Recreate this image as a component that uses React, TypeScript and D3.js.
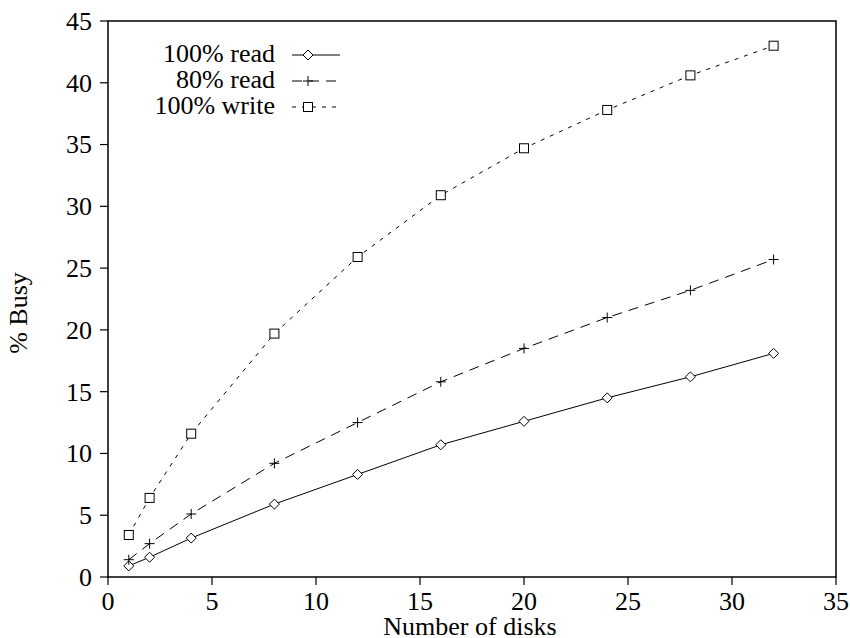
import React from "react";
import * as d3 from "d3";

const disks = [1, 2, 4, 8, 12, 16, 20, 24, 28, 32];
const read100 = [0.9, 1.6, 3.15, 5.9, 8.3, 10.7, 12.6, 14.5, 16.2, 18.1];
const read80 = [1.4, 2.7, 5.1, 9.2, 12.5, 15.8, 18.5, 21.0, 23.2, 25.7];
const write100 = [3.4, 6.4, 11.6, 19.7, 25.9, 30.9, 34.7, 37.8, 40.6, 43.0];
const seriesNames = ["100% read", "80% read", "100% write"];
const xTicks = [0, 5, 10, 15, 20, 25, 30, 35];
const yTicks = [0, 5, 10, 15, 20, 25, 30, 35, 40, 45];

const W = 850, H = 638;
const L = 108, R = 836, T = 21, B = 577;
const FONT = "'Liberation Serif', 'Times New Roman', serif";
const FS = 26;

export default function App() {
  const x = d3.scaleLinear().domain([0, 35]).range([L, R]);
  const y = d3.scaleLinear().domain([0, 45]).range([B, T]);
  const line = d3.line<[number, number]>().x(d => x(d[0])).y(d => y(d[1]));
  const series = [
    { name: seriesNames[0], vals: read100, dash: "none", marker: "diamond" },
    { name: seriesNames[1], vals: read80, dash: "10,7", marker: "plus" },
    { name: seriesNames[2], vals: write100, dash: "4,6", marker: "square" },
  ];
  const marker = (type: string, cx: number, cy: number, key: any) => {
    if (type === "diamond") {
      const s = 5;
      return <path key={key} d={`M${cx},${cy - s}L${cx + s},${cy}L${cx},${cy + s}L${cx - s},${cy}Z`} fill="white" stroke="black" strokeWidth={1} />;
    }
    if (type === "plus") {
      const s = 5;
      return <path key={key} d={`M${cx - s},${cy}H${cx + s}M${cx},${cy - s}V${cy + s}`} stroke="black" strokeWidth={1} fill="none" />;
    }
    const s = 4.5;
    return <rect key={key} x={cx - s} y={cy - s} width={2 * s} height={2 * s} fill="white" stroke="black" strokeWidth={1} />;
  };
  const legendY = [55, 81, 107];
  return (
    <svg width={W} height={H} style={{ position: "absolute", left: 0, top: 0 }}>
      <rect width={W} height={H} fill="white" />
      {series.map((s, i) => (
        <g key={i}>
          <path d={line(disks.map((d, j) => [d, s.vals[j]] as [number, number])) || ""} fill="none" stroke="black" strokeWidth={1} strokeDasharray={s.dash} />
          {disks.map((d, j) => marker(s.marker, x(d), y(s.vals[j]), j))}
        </g>
      ))}
      <rect x={L} y={T} width={R - L} height={B - T} fill="none" stroke="black" strokeWidth={1.5} />
      {xTicks.map(t => (
        <g key={t}>
          <line x1={x(t)} x2={x(t)} y1={B} y2={B + 8} stroke="black" strokeWidth={1.2} />
          <text x={x(t)} y={B + 33} textAnchor="middle" fontFamily={FONT} fontSize={FS}>{t}</text>
        </g>
      ))}
      {yTicks.map(t => (
        <g key={t}>
          <line x1={L - 8} x2={L} y1={y(t)} y2={y(t)} stroke="black" strokeWidth={1.2} />
          <text x={L - 16} y={y(t)} dy="0.34em" textAnchor="end" fontFamily={FONT} fontSize={FS}>{t}</text>
        </g>
      ))}
      <text x={470} y={635} textAnchor="middle" fontFamily={FONT} fontSize={FS}>Number of disks</text>
      <text transform={`translate(27,313) rotate(-90)`} textAnchor="middle" fontFamily={FONT} fontSize={FS}>% Busy</text>
      {series.map((s, i) => (
        <g key={"lg" + i}>
          <text x={275} y={legendY[i]} dy="0.28em" textAnchor="end" fontFamily={FONT} fontSize={FS}>{s.name}</text>
          <line x1={292} x2={340} y1={legendY[i]} y2={legendY[i]} stroke="black" strokeWidth={1} strokeDasharray={s.dash} />
          {marker(s.marker, 308, legendY[i], "m")}
        </g>
      ))}
    </svg>
  );
}
